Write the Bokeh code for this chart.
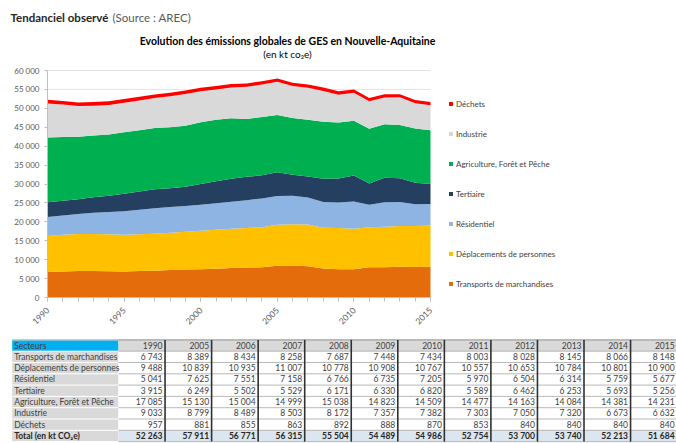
import math
from bokeh.plotting import figure
from bokeh.models import (ColumnDataSource, Range1d, FixedTicker, Legend, LegendItem, Label,
                          LinearAxis)
from bokeh.embed import file_html
from bokeh.resources import INLINE
from bokeh.core.properties import value

# ---------------- data (kt CO2e) ----------------
years = list(range(1990, 2016))
transports = [6743, 6900, 7000, 7000, 6950, 6900, 7000, 7100, 7300, 7400, 7500, 7600, 7800,
              7900, 8000, 8389, 8434, 8258, 7687, 7448, 7434, 8003, 8028, 8145, 8066, 8148]
deplacements = [9488, 9700, 9800, 9800, 9750, 9700, 9700, 9750, 9800, 9950, 10150, 10300, 10400,
                10500, 10600, 10839, 10935, 11007, 10778, 10908, 10767, 10557, 10653, 10784, 10801, 10900]
residentiel = [5041, 5100, 5300, 5600, 5900, 6200, 6500, 6750, 6800, 6850, 6850, 7000, 7100,
               7300, 7600, 7625, 7551, 7158, 6766, 6735, 7205, 5970, 6504, 6314, 5759, 5677]
tertiaire = [3915, 3900, 3900, 4100, 4300, 4600, 4800, 5000, 5000, 5100, 5500, 5800, 6100,
             6200, 6100, 6249, 5502, 5529, 6171, 6330, 6820, 5589, 6462, 6253, 5693, 5256]
agriculture = [17085, 16800, 16500, 16300, 16200, 16300, 16200, 16200, 16100, 16100, 16300, 16300, 16000,
               15300, 15400, 15130, 15004, 14999, 15038, 14823, 14509, 14477, 14163, 14084, 14381, 14231]
industrie = [9033, 8600, 8100, 7900, 7800, 7800, 7900, 7900, 8200, 8400, 8200, 8000, 8100,
             8500, 8600, 8799, 8489, 8503, 8172, 7357, 7382, 7303, 7050, 7320, 6673, 6632]
dechets = [957, 955, 950, 945, 940, 935, 930, 925, 920, 915, 910, 905, 900,
           895, 890, 881, 855, 863, 892, 888, 870, 853, 840, 840, 840, 840]

sector_names = ["Transports de marchandises", "Déplacements de personnes", "Résidentiel",
                "Tertiaire", "Agriculture, Forêt et Pêche", "Industrie", "Déchets"]
sector_colors = ["#E46C0A", "#FFC000", "#8EB4E3", "#243F60", "#00B050", "#D9D9D9", "#FF0000"]

y_ticks = [0, 5000, 10000, 15000, 20000, 25000, 30000, 35000, 40000, 45000, 50000, 55000, 60000]
y_tick_labels = ["0", "5 000", "10 000", "15 000", "20 000", "25 000", "30 000",
                 "35 000", "40 000", "45 000", "50 000", "55 000", "60 000"]
x_major_ticks = [1990, 1995, 2000, 2005, 2010, 2015]

table_years = [1990, 2005, 2006, 2007, 2008, 2009, 2010, 2011, 2012, 2013, 2014, 2015]
table_totals = [52263, 57911, 56771, 56315, 55504, 54489, 54986, 52754, 53700, 53740, 52213, 51684]
total_label = "Total (en kt CO₂e)"
header_label = "Secteurs"

FONT = "Lato"

# ---------------- page geometry (pixels) ----------------
W, H = 676, 443
PLOT_L, PLOT_R, PLOT_T, PLOT_B = 47, 430, 70, 297
X0, X1, Y0, Y1 = years[0], years[-1], y_ticks[0], y_ticks[-1]
xs = (PLOT_R - PLOT_L) / (X1 - X0)
ys = (PLOT_B - PLOT_T) / (Y1 - Y0)

p = figure(width=W, height=H,
           x_range=Range1d(X0 - PLOT_L / xs, X1 + (W - PLOT_R) / xs),
           y_range=Range1d(Y0 - (H - PLOT_B) / ys, Y1 + PLOT_T / ys),
           x_axis_location=None, y_axis_location=None, min_border=0,
           output_backend="svg", toolbar_location=None)
p.extra_x_ranges = {"px": Range1d(0, W)}
p.extra_y_ranges = {"px": Range1d(H, 0)}
p.outline_line_color = None
p.grid.visible = False
p.background_fill_color = "white"
p.border_fill_color = "white"

# ---------------- chart ----------------
p.segment(x0=[X0] * len(y_ticks), x1=[X1] * len(y_ticks), y0=y_ticks, y1=y_ticks,
          line_color="#E3E3E3", line_width=1, level="underlay")

series = [transports, deplacements, residentiel, tertiaire, agriculture, industrie, dechets]
keys = ["s%d" % i for i in range(len(series))]
data = {"year": years}
for k, s in zip(keys, series):
    data[k] = s
src = ColumnDataSource(data)
renderers = p.varea_stack(stackers=keys, x="year", color=sector_colors, source=src)

xaxis = LinearAxis(ticker=FixedTicker(ticks=x_major_ticks, minor_ticks=years),
                   fixed_location=Y0, bounds=(X0, X1))
xaxis.major_label_orientation = math.pi / 4
yaxis = LinearAxis(ticker=FixedTicker(ticks=y_ticks), fixed_location=X0, bounds=(Y0, Y1))
yaxis.major_label_overrides = dict(zip(y_ticks, y_tick_labels))
for ax in (xaxis, yaxis):
    ax.major_label_text_font = FONT
    ax.major_label_text_font_size = "8px"
    ax.major_label_text_color = "#595959"
    ax.axis_line_color = "#BFBFBF"
    ax.major_tick_line_color = "#BFBFBF"
    ax.minor_tick_line_color = "#BFBFBF"
    ax.major_tick_in = 0
    ax.minor_tick_in = 0
xaxis.major_label_text_font_size = "8.5px"
xaxis.major_tick_out = 4
xaxis.minor_tick_out = 4
xaxis.major_label_standoff = 7
xaxis.major_label_text_align = "center"
yaxis.major_tick_out = 3
yaxis.minor_tick_line_color = None
yaxis.major_label_standoff = 5
p.add_layout(xaxis, "below")
p.add_layout(yaxis, "left")

items = [LegendItem(label=sector_names[i], renderers=[renderers[i]]) for i in reversed(range(len(series)))]
legend = Legend(items=items, location=(448, 154), border_line_color=None, background_fill_alpha=0,
                label_text_font=FONT, label_text_font_size="8px", label_text_color="#404040",
                glyph_width=5, glyph_height=5, label_standoff=3, spacing=19, padding=10, margin=0,
                label_height=11)
p.add_layout(legend, "center")

# ---------------- titles ----------------
p.add_layout(Label(x=10, y=17, x_range_name="px", y_range_name="px", text="Tendanciel observé",
                   text_font=FONT, text_font_style="bold", text_font_size="11.5px",
                   text_color="#262626", text_baseline="middle"))
p.add_layout(Label(x=112, y=17, x_range_name="px", y_range_name="px", text="(Source : AREC)",
                   text_font=FONT, text_font_size="11.5px", text_color="#595959",
                   text_baseline="middle"))
p.add_layout(Label(x=287, y=40, x_range_name="px", y_range_name="px",
                   text="Evolution des émissions globales de GES en Nouvelle-Aquitaine",
                   text_font=FONT, text_font_style="bold", text_font_size="10.5px",
                   text_color="#000000", text_align="center", text_baseline="middle"))
p.add_layout(Label(x=287, y=53, x_range_name="px", y_range_name="px", text="(en kt co₂e)",
                   text_font=FONT, text_font_size="10px", text_color="#000000",
                   text_align="center", text_baseline="middle"))

# ---------------- table ----------------
LEFT, NAME_R, COL_W, TOP, ROW_H = 11.7, 118.0, 46.55, 339.4, 11.3
n_cols = len(table_years)
n_rows = len(sector_names) + 2
col_edges = [NAME_R + i * COL_W for i in range(n_cols + 1)]
row_edges = [TOP + i * ROW_H for i in range(n_rows + 1)]
PX = dict(x_range_name="px", y_range_name="px")

ql, qr, qt, qb, qc = [], [], [], [], []
for ri in range(n_rows):
    tp, b = row_edges[ri], row_edges[ri + 1]
    ql.append(LEFT); qr.append(NAME_R); qt.append(tp); qb.append(b)
    qc.append("#00B0F0" if ri == 0 else "#D9D9D9")
    for ci in range(n_cols):
        ql.append(col_edges[ci]); qr.append(col_edges[ci + 1]); qt.append(tp); qb.append(b)
        qc.append("#D9D9D9" if ri == 0 else ("#DCE6F1" if ri == n_rows - 1 else "white"))
p.quad(left=ql, right=qr, top=qt, bottom=qb, fill_color=qc, line_color=None, **PX)

p.segment(x0=[LEFT] * (n_rows + 1), x1=[NAME_R] * (n_rows + 1), y0=row_edges, y1=row_edges,
          line_color="white", line_width=1, **PX)
p.segment(x0=[NAME_R] * (n_rows + 1), x1=[col_edges[-1]] * (n_rows + 1), y0=row_edges, y1=row_edges,
          line_color="#A6A6A6", line_width=0.8, **PX)
p.segment(x0=[LEFT], x1=[col_edges[-1]], y0=[row_edges[0]], y1=[row_edges[0]],
          line_color="#A6A6A6", line_width=1, **PX)
p.segment(x0=col_edges[1:], x1=col_edges[1:], y0=[row_edges[0]] * n_cols, y1=[row_edges[-1]] * n_cols,
          line_color="#303030", line_width=1.6, **PX)

tx, ty, tt = [], [], []
for ri, name in enumerate([header_label] + sector_names):
    tx.append(LEFT + 2); ty.append(row_edges[ri] + ROW_H / 2); tt.append(name)
p.text(x=tx, y=ty, text=tt, text_font=value(FONT), text_font_size="8.5px", text_color="#404040",
       text_align="left", text_baseline="middle", **PX)
p.text(x=[LEFT + 2], y=[row_edges[-2] + ROW_H / 2], text=[total_label], text_font=value(FONT),
       text_font_size="8.5px", text_font_style="bold", text_color="#262626",
       text_align="left", text_baseline="middle", **PX)

def fmt(v):
    return "{:,}".format(v).replace(",", " ")

vx, vy, vt = [], [], []
for ci, yr in enumerate(table_years):
    xr = col_edges[ci + 1] - 2.5
    vx.append(xr); vy.append(row_edges[0] + ROW_H / 2); vt.append(str(yr))
    idx = years.index(yr)
    for si, s in enumerate(series):
        vx.append(xr); vy.append(row_edges[si + 1] + ROW_H / 2); vt.append(fmt(s[idx]))
p.text(x=vx, y=vy, text=vt, text_font=value(FONT), text_font_size="8.5px", text_color="#404040",
       text_align="right", text_baseline="middle", **PX)
p.text(x=[col_edges[ci + 1] - 2.5 for ci in range(n_cols)], y=[row_edges[-2] + ROW_H / 2] * n_cols,
       text=[fmt(v) for v in table_totals], text_font=value(FONT), text_font_size="8.5px",
       text_font_style="bold", text_color="#262626", text_align="right", text_baseline="middle", **PX)

open("out.html", "w").write(file_html(p, INLINE))
